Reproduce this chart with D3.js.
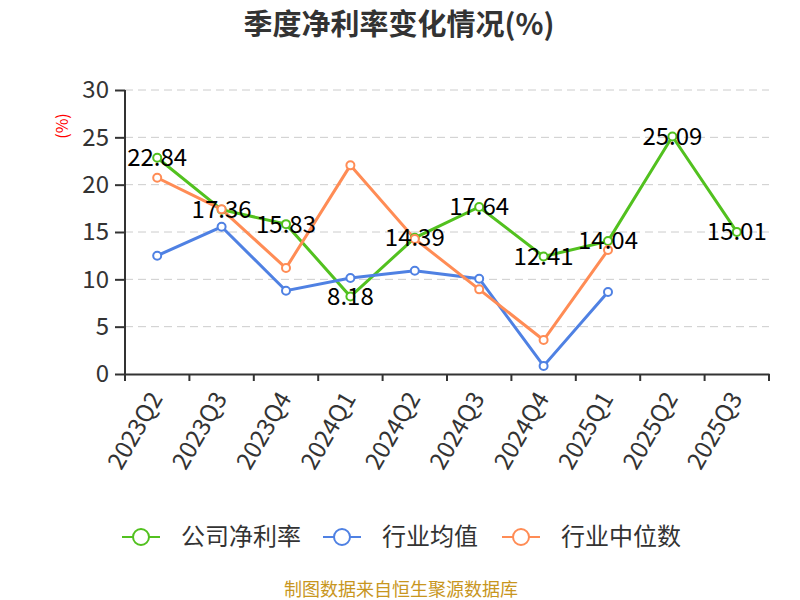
<!DOCTYPE html>
<html>
<head>
<meta charset="utf-8">
<style>
  body { margin: 0; background: #fff; }
  svg text { font-family: "Noto Sans CJK SC", "Noto Sans", sans-serif; }
  .grid line { stroke: #ccc; stroke-dasharray: 8,5; }
  .axis path, .axis line { stroke: #333; stroke-width: 2; }
  .axis text { fill: #333; font-size: 24px; }
</style>
<script src="https://d3js.org/d3.v7.min.js"></script>
</head>
<body>
<svg width="800" height="600"></svg>
<script>
var quarters = ["2023Q2","2023Q3","2023Q4","2024Q1","2024Q2","2024Q3","2024Q4","2025Q1","2025Q2","2025Q3"];
var companyRate = [22.84, 17.36, 15.83, 8.18, 14.39, 17.64, 12.41, 14.04, 25.09, 15.01];
var industryAvg = [12.5, 15.55, 8.8, 10.14, 10.9, 10.07, 0.85, 8.66, null, null];
var industryMedian = [20.73, 17.39, 11.19, 22.04, 14.26, 8.94, 3.59, 13.09, null, null];
var yTicks = [0, 5, 10, 15, 20, 25, 30];

var series = [
  { name: "公司净利率", values: companyRate, color: "#52c11f" },
  { name: "行业均值", values: industryAvg, color: "#4f81e3" },
  { name: "行业中位数", values: industryMedian, color: "#ff8c55" }
];

var svg = d3.select("svg");
var plotLeft = 125, plotRight = 769, plotTop = 90, plotBottom = 374;

var x = d3.scaleBand().domain(quarters).range([plotLeft, plotRight]);
var y = d3.scaleLinear().domain([0, 30]).range([plotBottom, plotTop]);

svg.append("text")
   .attr("x", 399).attr("y", 35)
   .attr("text-anchor", "middle")
   .style("font-size", "29px").style("font-weight", "bold").style("fill", "#333")
   .text("季度净利率变化情况(%)");

svg.append("text")
   .attr("transform", "translate(68,126) rotate(-90)")
   .attr("text-anchor", "middle")
   .style("font-size", "16px").style("fill", "red")
   .text("(%)");

svg.append("g").attr("class", "grid")
   .selectAll("line").data(yTicks.slice(1)).enter().append("line")
   .attr("x1", plotLeft).attr("x2", plotRight)
   .attr("y1", function(d) { return y(d); }).attr("y2", function(d) { return y(d); });

var yAxis = svg.append("g").attr("class", "axis")
   .attr("transform", "translate(" + plotLeft + ",0)")
   .call(d3.axisLeft(y).tickValues(yTicks).tickSize(10).tickPadding(6));
yAxis.select(".domain").attr("d", "M0," + plotTop + "V" + plotBottom);

var xAxis = svg.append("g").attr("class", "axis")
   .attr("transform", "translate(0," + plotBottom + ")")
   .call(d3.axisBottom(x).tickSize(0).tickSizeOuter(0));
xAxis.selectAll(".tick line").remove();
xAxis.selectAll(".tick text")
   .attr("text-anchor", "end")
   .attr("dy", "0.35em")
   .attr("transform", "translate(-1,20) rotate(-60)")
   .attr("x", 0).attr("y", 0);
// ticks at band boundaries
xAxis.selectAll(".bt").data(d3.range(quarters.length + 1)).enter().append("line")
   .attr("class", "bt")
   .attr("x1", function(i) { return plotLeft + i * x.step(); })
   .attr("x2", function(i) { return plotLeft + i * x.step(); })
   .attr("y1", 0).attr("y2", 7);

function cx(i) { return x(quarters[i]) + x.bandwidth() / 2; }

var line = d3.line()
   .defined(function(d) { return d != null; })
   .x(function(d, i) { return cx(i); })
   .y(function(d) { return y(d); });

series.forEach(function(s) {
  svg.append("path")
     .datum(s.values)
     .attr("fill", "none")
     .attr("stroke", s.color)
     .attr("stroke-width", 3)
     .attr("d", line);
});

series.forEach(function(s) {
  var pts = s.values.map(function(v, i) { return { v: v, i: i }; })
                    .filter(function(d) { return d.v != null; });
  svg.append("g").selectAll("circle").data(pts).enter().append("circle")
     .attr("cx", function(d) { return cx(d.i); })
     .attr("cy", function(d) { return y(d.v); })
     .attr("r", 4)
     .attr("fill", "#fff")
     .attr("stroke", s.color)
     .attr("stroke-width", 2);
});

// data labels for the company series
svg.append("g").selectAll("text").data(companyRate).enter().append("text")
   .attr("x", function(d, i) { return cx(i); })
   .attr("y", function(d) { return y(d); })
   .attr("dy", "0.35em")
   .attr("text-anchor", "middle")
   .style("font-size", "24px").style("fill", "#000")
   .text(function(d) { return d.toFixed(2); });

// legend
var legendX = [122, 323, 502];
var legend = svg.append("g").selectAll("g").data(series).enter().append("g")
   .attr("transform", function(d, i) { return "translate(" + legendX[i] + ",537)"; });
legend.append("line")
   .attr("x1", 0).attr("x2", 38).attr("y1", 0).attr("y2", 0)
   .attr("stroke", function(d) { return d.color; }).attr("stroke-width", 2);
legend.append("circle")
   .attr("cx", 19).attr("cy", 0).attr("r", 8)
   .attr("fill", "#fff")
   .attr("stroke", function(d) { return d.color; }).attr("stroke-width", 2);
legend.append("text")
   .attr("x", 59).attr("y", 0).attr("dy", "0.35em")
   .style("font-size", "24px").style("fill", "#333")
   .text(function(d) { return d.name; });

svg.append("text")
   .attr("x", 401).attr("y", 596)
   .attr("text-anchor", "middle")
   .style("font-size", "18px").style("fill", "#c8961e")
   .text("制图数据来自恒生聚源数据库");
</script>
</body>
</html>
